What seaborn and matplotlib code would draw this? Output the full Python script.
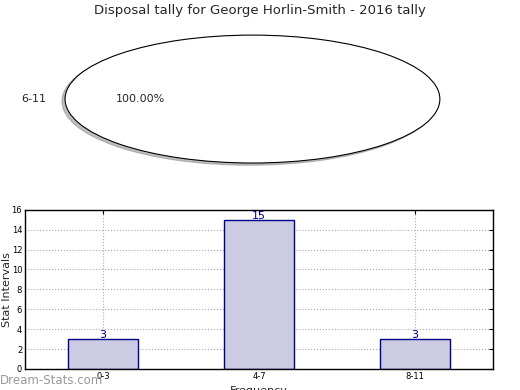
import matplotlib
matplotlib.use("Agg")
import matplotlib.pyplot as plt
import seaborn as sns

# pie data
pie_labels = ['6-11']
pie_values = [1]

# bar data
bar_labels = ['0-3', '4-7', '8-11']
bar_values = [3, 15, 3]

sns.set_style("white")
plt.rcParams['font.family'] = ['DejaVu Sans']

fig = plt.figure(figsize=(5.2, 3.9), dpi=100)

# top: pie chart, stretched like old matplotlib
ax1 = fig.add_axes([0.035, 0.541, 0.901, 0.41])
ax1.pie(pie_values, labels=pie_labels, autopct='%1.2f%%',
        shadow={'ox': -0.012, 'oy': -0.025, 'shade': 0.5},
        colors=['white'], wedgeprops={'edgecolor': 'black', 'linewidth': 0.8},
        textprops={'fontsize': 8})
ax1.set_aspect('auto')
ax1.set_xlim(-1.25, 1.25)
ax1.set_ylim(-1.25, 1.25)
ax1.axis('off')
fig.text(0.5, 0.974, 'Disposal tally for George Horlin-Smith - 2016 tally',
         ha='center', va='center', fontsize=9.5)

# bottom: bar chart
ax2 = fig.add_axes([0.048, 0.054, 0.9, 0.408])
sns.barplot(x=bar_labels, y=bar_values, color='#cbcbe4',
            edgecolor='#00008b', linewidth=1, width=0.45, saturation=1, ax=ax2)
for i, v in enumerate(bar_values):
    ax2.text(i, v - 0.1, str(v), ha='center', va='bottom', color='#00008b', fontsize=8)
ax2.set_xlim(-0.5, 2.5)
ax2.set_ylim(0, 16)
ax2.set_yticks(range(0, 17, 2))
ax2.grid(True, linestyle=':', color='#aaaaaa', linewidth=0.8)
ax2.set_axisbelow(True)
ax2.tick_params(direction='in', labelsize=6, length=3, pad=2, right=True, top=True,
                colors='black')
for s in ax2.spines.values():
    s.set_visible(True)
    s.set_color('black')
    s.set_linewidth(1)
ax2.set_xlabel('Frequency', fontsize=8, labelpad=4)
ax2.set_ylabel('Stat Intervals', fontsize=8)
ax2.yaxis.set_label_coords(-0.028, 0.5)

fig.text(0.0, 0.025, 'Dream-Stats.com', color='#999999', fontsize=8.5,
         ha='left', va='center')

fig.savefig('out.png', dpi=100)
